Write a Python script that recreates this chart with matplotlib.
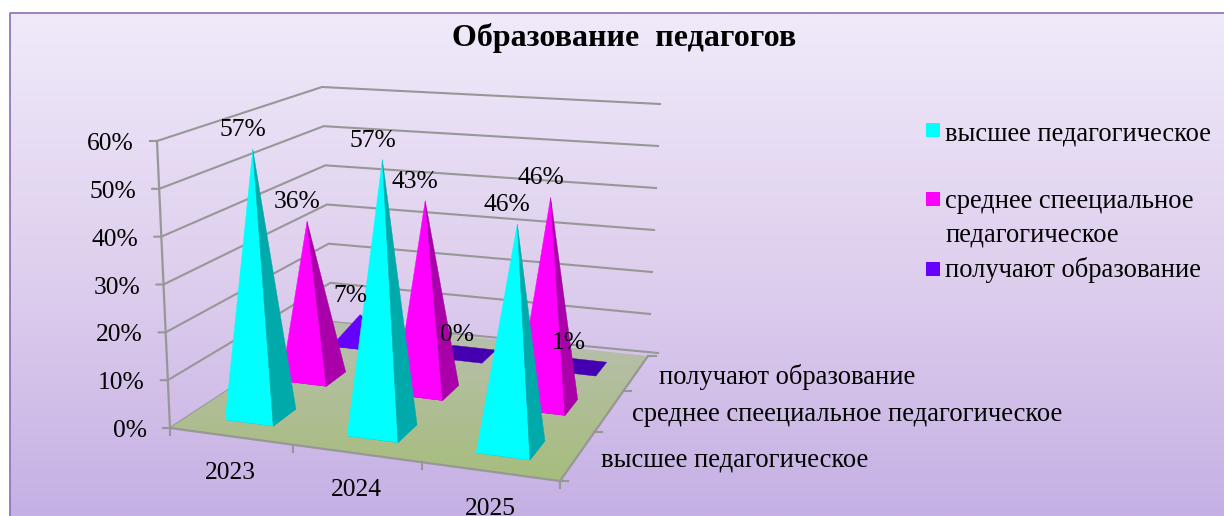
import numpy as np
import matplotlib
matplotlib.use("Agg")
import matplotlib.pyplot as plt
from matplotlib.colors import LinearSegmentedColormap
from matplotlib.patches import Polygon, Rectangle

plt.rcParams["font.family"] = ["Liberation Serif", "DejaVu Serif"]

TITLE = "Образование  педагогов"
YEARS = ["2023", "2024", "2025"]
SERIES = ["высшее педагогическое", "среднее спеециальное педагогическое", "получают образование"]
LEGEND = ["высшее педагогическое", "среднее спеециальное\nпедагогическое", "получают образование"]
VALUES = [[57, 57, 46], [36, 43, 46], [7, 0, 1]]
Y_TICKS = [0, 10, 20, 30, 40, 50, 60]
FACE = ["#00ffff", "#ff00ff", "#6600ff"]
SIDE = ["#00aaaa", "#aa00aa", "#4400b0"]
GRID = "#979797"

# pixel frame of the 3d box: floor corners and their 60% height vectors
FLOOR_SRC = [(0, 0), (3, 0), (3, 3), (0, 3)]
FLOOR_DST = [(170, 428), (560, 481), (648, 356), (332, 322)]
UP_WALL = np.array([[-13, -287], [13, -304], [12, -252], [-10, -235]], float)
UP_BAR = np.array([[-13, -287], [13, -304], [10, -240], [-12, -222]], float)


def homography(src, dst):
    A, b = [], []
    for (x, y), (u, v) in zip(src, dst):
        A.append([x, y, 1, 0, 0, 0, -u * x, -u * y])
        A.append([0, 0, 0, x, y, 1, -v * x, -v * y])
        b += [u, v]
    return np.append(np.linalg.solve(np.array(A, float), np.array(b, float)), 1).reshape(3, 3)


H = homography(FLOOR_SRC, FLOOR_DST)


def project(cat, ser, val=0, up_box=UP_WALL):
    p = H @ np.array([cat, ser, 1.0])
    a, b = cat / 3, ser / 3
    up = (1 - a) * (1 - b) * up_box[0] + a * (1 - b) * up_box[1] + a * b * up_box[2] + (1 - a) * b * up_box[3]
    return p[:2] / p[2] + up * val / 60


fig = plt.figure(figsize=(12.24, 5.16), dpi=100, facecolor="white")
ax = fig.add_axes([0, 0, 1, 1])
ax.axis("off")

# background
bg = LinearSegmentedColormap.from_list("bg", ["#f0eafa", "#dfd0ee", "#c5b0e4"])
ax.imshow(np.linspace(0, 1, 256)[:, None], cmap=bg, extent=(10, 1224, 516, 13), aspect="auto", zorder=0)
ax.plot([10, 10, 1224], [516, 13, 13], color="#8a6fb0", lw=1.2, zorder=1)

# walls
for v in Y_TICKS:
    a, b, c = project(0, 0, v), project(0, 3, v), project(3, 3, v)
    ax.plot([a[0] - 7, a[0], b[0], c[0] + (10 if v == 0 else 0)],
            [a[1], a[1], b[1], c[1] - (0 if v else 3)], color=GRID, lw=1.5, zorder=2)
    ax.text(a[0] - 23, a[1] + 3, f"{v}%", fontsize=18.4, ha="right", va="center", zorder=9)
a, b = project(0, 0, 0), project(0, 0, 60)
ax.plot([a[0], b[0]], [a[1], b[1]], color=GRID, lw=1.6, zorder=2)

# floor
floor = Polygon([project(*c) for c in FLOOR_SRC], closed=True, fc="none", ec="none", zorder=3)
ax.add_patch(floor)
fl = LinearSegmentedColormap.from_list("fl", ["#b9bfb0", "#a6bd7c"])
im = ax.imshow(np.linspace(0, 1, 256)[:, None], cmap=fl, extent=(170, 648, 481, 322), aspect="auto", zorder=3)
im.set_clip_path(floor)
p0, p1, p2 = project(0, 0), project(3, 0), project(3, 3)
ax.plot([p0[0], p1[0], p2[0]], [p0[1], p1[1], p2[1]], color=GRID, lw=1.6, zorder=4)
for i in range(4):
    p = project(i, 0)
    ax.plot([p[0], p[0]], [p[1], p[1] + 7], color=GRID, lw=1.5, zorder=4)
    p = project(3, i)
    ax.plot([p[0], p[0] + 8], [p[1], p[1]], color=GRID, lw=1.5, zorder=4)

# pyramids, back row first
HW, HD = 0.2, 0.2
z = 5.0
for s in [2, 1, 0]:
    for c in range(3):
        u, w, val = c + 0.5, s + 0.5, VALUES[s][c]
        if s == 1:
            w -= 0.02
        fl_, fr, br = project(u - HW, w - HD), project(u + HW, w - HD), project(u + HW, w + HD)
        bl = project(u - HW, w + HD)
        apex = project(u - (0.015 if s == 1 else 0), w, val, UP_BAR)
        # the base shows as a flat dark patch on near-zero pyramids
        ax.add_patch(Polygon([fl_, fr, br, bl], closed=True, fc=SIDE[s], ec=SIDE[s], lw=0.3, zorder=z))
        if val > 1:
            ax.add_patch(Polygon([fl_, fr, apex], closed=True, fc=FACE[s], ec=FACE[s], lw=0.3, zorder=z))
            ax.add_patch(Polygon([fr, br, apex], closed=True, fc=SIDE[s], ec=SIDE[s], lw=0.3, zorder=z))
        ax.text(apex[0] - 10, apex[1] - 19, f"{val}%", fontsize=18.4, ha="center", va="center", zorder=9)
        z += 0.01

# axis labels
for i, year in enumerate(YEARS):
    p = project(i + 0.5, 0)
    ax.text(p[0], p[1] + 37, year, fontsize=18.4, ha="center", va="center", zorder=9)
for i, name in enumerate(SERIES):
    p = project(3, i + 0.5)
    ax.text(p[0] + 23, p[1] + 4, name, fontsize=19.2, ha="left", va="center", zorder=9)

# legend
LEG_Y = [130, 199, 269]
LEG_TEXT_Y = [134, 218, 270]
for name, col, y, ty in zip(LEGEND, FACE, LEG_Y, LEG_TEXT_Y):
    ax.add_patch(Rectangle((926, y - 7), 14, 14, fc=col, ec="none", zorder=9))
    ax.text(945, ty, name, fontsize=19.1, ha="left", va="center", linespacing=1.45, zorder=9)

ax.text(624, 38, TITLE, fontsize=23, fontweight="bold", ha="center", va="center", zorder=9)

ax.set_xlim(0, 1224)
ax.set_ylim(516, 0)
fig.savefig("out.png", dpi=100)
